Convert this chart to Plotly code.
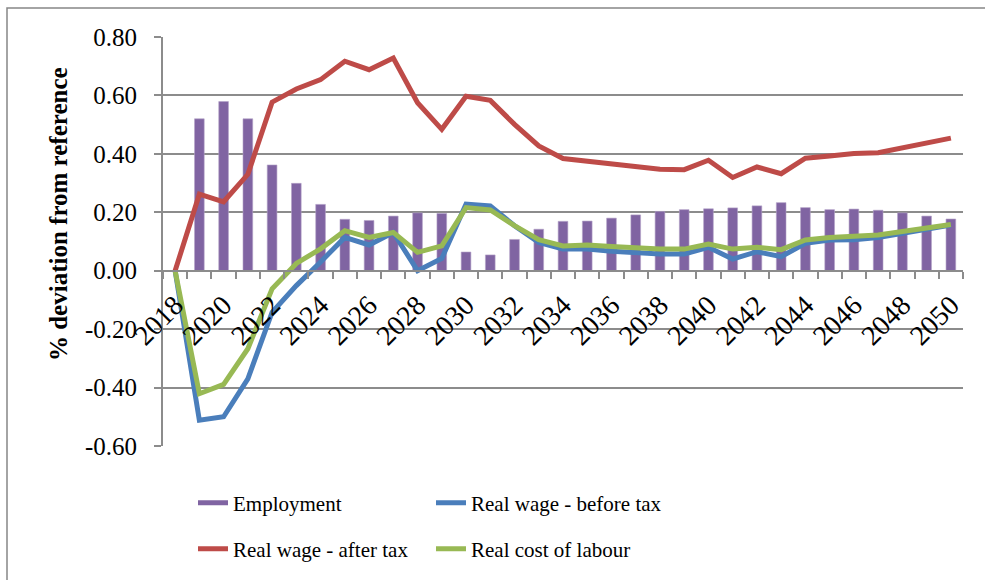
import plotly.graph_objects as go

# Years on the category axis
years = list(range(2018, 2051))

# % deviation from reference, by series
employment = [0.0, 0.520, 0.579, 0.520, 0.362, 0.299, 0.227, 0.176, 0.172, 0.187,
              0.198, 0.196, 0.064, 0.054, 0.107, 0.142, 0.169, 0.170, 0.180, 0.191,
              0.203, 0.209, 0.212, 0.215, 0.222, 0.233, 0.216, 0.209, 0.211, 0.207,
              0.198, 0.187, 0.177]
wage_before_tax = [0.0, -0.512, -0.500, -0.370, -0.142, -0.051, 0.030, 0.114, 0.088, 0.131,
                   0.000, 0.042, 0.228, 0.222, 0.154, 0.097, 0.074, 0.074, 0.067, 0.060,
                   0.057, 0.057, 0.080, 0.040, 0.065, 0.048, 0.094, 0.105, 0.106, 0.114,
                   0.129, 0.142, 0.156]
wage_after_tax = [0.0, 0.262, 0.236, 0.330, 0.577, 0.622, 0.654, 0.717, 0.688, 0.728,
                  0.575, 0.484, 0.597, 0.583, 0.501, 0.427, 0.384, 0.375, 0.364, 0.355,
                  0.347, 0.346, 0.378, 0.319, 0.355, 0.332, 0.385, 0.393, 0.401, 0.404,
                  0.421, 0.440, 0.454]
cost_of_labour = [0.0, -0.421, -0.389, -0.267, -0.062, 0.025, 0.075, 0.137, 0.114, 0.131,
                  0.063, 0.085, 0.216, 0.208, 0.154, 0.106, 0.085, 0.088, 0.083, 0.077,
                  0.074, 0.074, 0.091, 0.074, 0.080, 0.072, 0.105, 0.114, 0.117, 0.122,
                  0.134, 0.146, 0.158]

label_years = years[::2]
y_ticks = [-0.6, -0.4, -0.2, 0.0, 0.2, 0.4, 0.6, 0.8]
y_ticktext = ["-0.60", "-0.40", "-0.20", "0.00", "0.20", "0.40", "0.60", "0.80"]

PURPLE = "#8064A2"
BLUE = "#4A7EBB"
RED = "#BE4B48"
GREEN = "#98B954"
GREY = "#8C8C8C"
SERIF = "Liberation Serif"

W, H = 985, 580
ML, MR, MT, MB = 163, 22, 37, 133
PW, PH = W - ML - MR, H - MT - MB


def px_x(px):
    return (px - ML) / PW


def px_y(py):
    return (H - MB - py) / PH


fig = go.Figure()

fig.add_trace(go.Bar(
    x=years, y=employment, name="Employment", showlegend=False,
    marker=dict(color=PURPLE, line=dict(color="#B3A2C7", width=0.6)),
))
# wide legend swatch for the bar series
fig.add_trace(go.Scatter(
    x=[None], y=[None], mode="lines", name="Employment",
    line=dict(color=PURPLE, width=13), legend="legend",
))
fig.add_trace(go.Scatter(
    x=years, y=wage_before_tax, mode="lines", name="Real wage - before tax",
    line=dict(color=BLUE, width=5), legend="legend2",
))
fig.add_trace(go.Scatter(
    x=years, y=wage_after_tax, mode="lines", name="Real wage - after tax",
    line=dict(color=RED, width=5), legend="legend3",
))
fig.add_trace(go.Scatter(
    x=years, y=cost_of_labour, mode="lines", name="Real cost of labour",
    line=dict(color=GREEN, width=5), legend="legend4",
))

legend_common = dict(
    orientation="h", xanchor="left", yanchor="middle",
    font=dict(family=SERIF, size=21, color="black"),
    bgcolor="rgba(0,0,0,0)", itemsizing="constant",
)
COL1, COL2 = 193, 431
ROW1, ROW2 = 503, 549

fig.update_layout(
    width=W, height=H,
    margin=dict(l=ML, r=MR, t=MT, b=MB),
    paper_bgcolor="white", plot_bgcolor="white",
    bargap=0.6,
    font=dict(family=SERIF, size=22, color="black"),
    legend=dict(x=px_x(COL1), y=px_y(ROW1), **legend_common),
    legend2=dict(x=px_x(COL2), y=px_y(ROW1), **legend_common),
    legend3=dict(x=px_x(COL1), y=px_y(ROW2), **legend_common),
    legend4=dict(x=px_x(COL2), y=px_y(ROW2), **legend_common),
    xaxis=dict(
        range=[2017.5, 2050.5], anchor="free", position=0.6 / 1.4,
        showline=True, linecolor=GREY, linewidth=2,
        tickmode="array", tickvals=label_years, ticktext=[str(v) for v in label_years],
        ticks="", tickangle=-45, tickfont=dict(family=SERIF, size=28),
        ticklabelstandoff=6,
        showgrid=False, zeroline=False,
        minor=dict(tickmode="array", tickvals=[y - 0.5 for y in years] + [2050.5],
                   ticks="outside", ticklen=7, tickwidth=2, tickcolor=GREY, showgrid=False),
    ),
    yaxis=dict(
        range=[-0.6, 0.8], tickmode="array", tickvals=y_ticks, ticktext=y_ticktext,
        showgrid=True, gridcolor=GREY, gridwidth=2, zeroline=False,
        showline=True, linecolor=GREY, linewidth=2,
        ticks="outside", ticklen=7, tickwidth=2, tickcolor=GREY,
        tickfont=dict(family=SERIF, size=25), ticklabelstandoff=12,
    ),
    annotations=[dict(
        text="<b>% deviation from reference</b>", textangle=-90,
        xref="paper", yref="paper", x=px_x(58.5), y=px_y(215),
        xanchor="center", yanchor="middle", showarrow=False,
        font=dict(family=SERIF, size=25, color="black"),
    )],
    shapes=[dict(
        type="rect", xref="paper", yref="paper",
        x0=px_x(7), x1=px_x(1000), y0=px_y(600), y1=px_y(8),
        line=dict(color="#868686", width=1.5), fillcolor="rgba(0,0,0,0)", layer="below",
    )],
)

fig.write_html("out.html")
